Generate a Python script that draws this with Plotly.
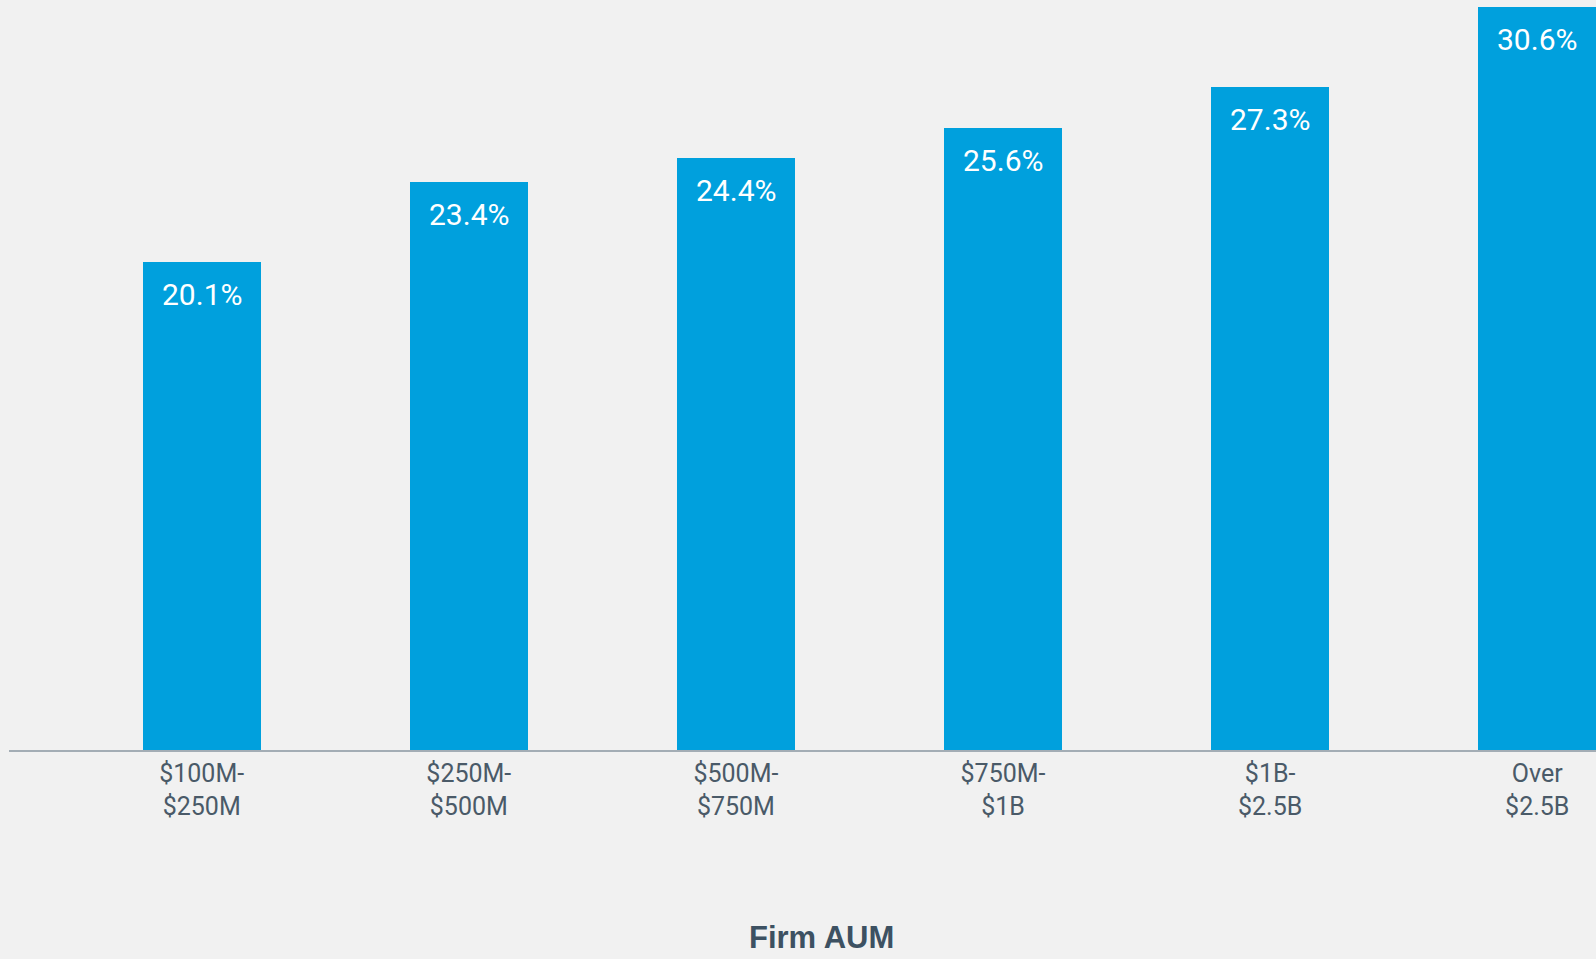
import plotly.graph_objects as go

categories = ["$100M-<br>$250M", "$250M-<br>$500M", "$500M-<br>$750M", "$750M-<br>$1B", "$1B-<br>$2.5B", "Over<br>$2.5B"]
values = [20.1, 23.4, 24.4, 25.6, 27.3, 30.6]
labels = [f"{v:.1f}%" for v in values]

BG = "#f1f1f1"
BAR = "#00a0dd"
TXT = "#4a5a68"

x_idx = list(range(len(categories)))

fig = go.Figure()
fig.add_trace(go.Bar(
    x=x_idx, y=values, width=0.442,
    marker=dict(color=BAR, line=dict(width=0)),
    hoverinfo="skip",
))

for i, (v, t) in enumerate(zip(values, labels)):
    fig.add_annotation(x=i, y=v, text=t, showarrow=False, yanchor="top", yshift=-13,
                       font=dict(family="Roboto", size=30, color="white"))

fig.add_annotation(x=0.5117, y=0, xref="paper", yref="paper", yanchor="top", yshift=-168,
                   text="<b>Firm AUM</b>", showarrow=False,
                   font=dict(family="Liberation Sans, Arial", size=31, color="#3d5162"))

fig.update_layout(
    width=1596, height=959,
    paper_bgcolor=BG, plot_bgcolor=BG,
    margin=dict(l=9, r=0, t=0, b=209),
    showlegend=False,
    bargap=0,
    xaxis=dict(range=[-0.7214, 5.220], tickmode="array", tickvals=x_idx, ticktext=categories,
               showgrid=False, zeroline=False, showline=True, linecolor="#a3adb5", linewidth=2,
               ticks="", tickfont=dict(family="Roboto", size=25, color=TXT)),
    yaxis=dict(range=[0, 30.89], visible=False, showgrid=False, zeroline=False),
)

fig.write_html("out.html", config={"displayModeBar": False},
               post_script="document.body.style.margin='0';document.body.style.background='#f1f1f1';")
